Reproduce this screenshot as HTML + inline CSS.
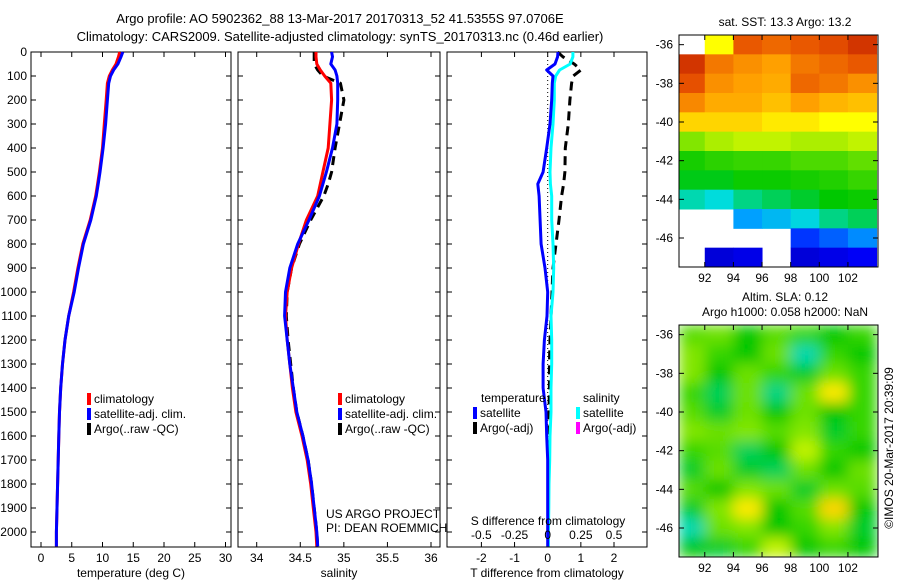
<!DOCTYPE html>
<html><head><meta charset="utf-8"><style>
body{margin:0;background:#fff}
svg{display:block;font-family:"Liberation Sans",sans-serif;font-size:12px}
</style></head><body>
<svg id="c" width="900" height="580" viewBox="0 0 900 580">
<text x="340" y="23" text-anchor="middle" font-size="13">Argo profile: AO 5902362_88 13-Mar-2017 20170313_52 41.5355S 97.0706E</text>
<text x="340" y="41" text-anchor="middle" font-size="13">Climatology: CARS2009. Satellite-adjusted climatology: synTS_20170313.nc (0.46d earlier)</text>
<g id="g"></g>
</svg>
<script>
const depths=[0,20,50,75,100,130,200,300,400,500,550,600,700,800,900,1000,1100,1200,1300,1400,1500,1600,1700,1800,1900,2000,2060];
const tClim=[12.8,12.6,12.2,11.6,11.1,10.8,10.6,10.3,10.0,9.5,9.2,8.9,8.0,6.8,6.0,5.3,4.5,3.9,3.5,3.2,3.0,2.9,2.8,2.7,2.6,2.5,2.5];
const tSat=[13.3,13.0,12.5,11.8,11.3,11.0,10.8,10.5,10.1,9.6,9.3,9.0,8.1,6.9,6.1,5.4,4.5,3.9,3.5,3.2,3.0,2.9,2.8,2.7,2.6,2.5,2.5];
const sClim=[34.68,34.68,34.69,34.73,34.78,34.85,34.86,34.84,34.82,34.76,34.73,34.70,34.57,34.48,34.40,34.35,34.33,34.35,34.38,34.41,34.45,34.52,34.58,34.62,34.65,34.68,34.69];
const sSat=[34.86,34.87,34.85,34.9,34.92,34.93,34.93,34.92,34.87,34.80,34.76,34.72,34.60,34.47,34.38,34.33,34.32,34.35,34.38,34.42,34.46,34.53,34.59,34.63,34.66,34.69,34.70];
const sArgo=[34.66,34.66,34.66,34.70,34.76,34.96,35.0,34.95,34.9,34.86,34.82,34.77,34.62,34.49,34.40,34.35,34.34,34.36,34.39,34.42,34.46,34.53,34.59,34.63,34.66,34.69,34.70];
const dTsat=[0.31,0.3,0.22,-0.03,0.16,0.14,0.12,0.07,-0.03,-0.14,-0.3,-0.26,-0.23,-0.2,-0.08,0,-0.02,-0.1,-0.14,-0.14,-0.05,-0.03,0,0,0,0,0];
const dTargo=[0.3,0.46,0.8,1.0,0.77,0.72,0.67,0.62,0.53,0.52,0.48,0.42,0.34,0.25,0.16,0.13,0.1,0.07,0.05,0.05,0.04,0.04,0.03,0.02,0.01,0.01,0.01];
const dSsat=[0.19,0.19,0.17,0.09,0.06,0.05,0.05,0.04,0.025,0.017,0.02,0.03,0.03,0.04,0.045,0.04,0.025,0.03,0.03,0.025,0.025,0.017,0.015,0.01,0.008,0.005,0.005];
const depthTicks=[0,100,200,300,400,500,600,700,800,900,1000,1100,1200,1300,1400,1500,1600,1700,1800,1900,2000];
const tTicks=[0,5,10,15,20,25,30];
const sTicks=[34,34.5,35,35.5,36];
const dTTicks=[-2,-1,0,1,2];
const dSTickLabels=["-0.5","-0.25","0","0.25","0.5"];
const lats=[-36,-37,-38,-39,-40,-41,-42,-43,-44,-45,-46,-47];
const lons=[91,93,95,97,99,101,103];
const N=null;
const sst=[
[N,0.66,0.84,0.82,0.84,0.86,0.9],
[0.9,0.8,0.77,0.75,0.8,0.82,0.84],
[0.85,0.77,0.75,0.74,0.82,0.8,0.77],
[0.78,0.74,0.74,0.72,0.75,0.73,0.72],
[0.7,0.7,0.7,0.68,0.68,0.66,0.66],
[0.6,0.62,0.63,0.63,0.62,0.62,0.63],
[0.5,0.52,0.53,0.53,0.55,0.55,0.57],
[0.47,0.47,0.49,0.49,0.5,0.51,0.53],
[0.4,0.38,0.42,0.44,0.46,0.48,0.49],
[N,N,0.3,0.33,0.37,0.42,0.44],
[N,N,N,N,0.2,0.24,0.28],
[N,0.1,0.12,N,0.1,0.12,0.14]];
const sla=[
[0.56,0.58,0.48,0.56,0.53,0.48,0.53],
[0.6,0.53,0.48,0.58,0.4,0.53,0.48],
[0.6,0.48,0.58,0.53,0.46,0.58,0.53],
[0.53,0.44,0.58,0.42,0.58,0.68,0.53],
[0.56,0.46,0.58,0.48,0.58,0.48,0.53],
[0.6,0.58,0.6,0.56,0.6,0.46,0.53],
[0.53,0.56,0.44,0.48,0.63,0.53,0.48],
[0.46,0.58,0.46,0.44,0.58,0.48,0.58],
[0.56,0.48,0.6,0.58,0.46,0.58,0.56],
[0.46,0.6,0.68,0.48,0.56,0.7,0.48],
[0.4,0.58,0.6,0.48,0.53,0.6,0.46],
[0.48,0.46,0.53,0.63,0.48,0.53,0.48]];
const latTicks=[-36,-38,-40,-42,-44,-46];
const lonTicks=[92,94,96,98,100,102];

const NS='http://www.w3.org/2000/svg';
const G=document.getElementById('g');
function mk(tag,attrs,parent,txt){const e=document.createElementNS(NS,tag);for(const k in attrs)e.setAttribute(k,attrs[k]);if(txt!==undefined)e.textContent=txt;(parent||G).appendChild(e);return e;}
const Y0=52,YB=547;
const yD=d=>Y0+d*0.24;
function lin(d0,d1,r0,r1){return v=>r0+(v-d0)*(r1-r0)/(d1-d0);}
const panels=[
 {x0:31,x1:231,f:lin(0,30,41,225.5),ticks:tTicks,lab:"temperature (deg C)",name:"temperature"},
 {x0:238,x1:440,f:lin(34,36,256.7,431),ticks:sTicks,lab:"salinity",name:"salinity"},
 {x0:447,x1:647,f:lin(0,2,547.7,614),ticks:dTTicks,lab:"T difference from climatology",name:"difference"}];
panels.forEach((p,pi)=>{
 const g=mk('g',{});
 
 
 mk('rect',{x:p.x0,y:Y0,width:p.x1-p.x0,height:YB-Y0,fill:'#fff',stroke:'#000','stroke-width':1},g);
 p.ticks.forEach(t=>{const x=p.f(t);
  mk('line',{x1:x,x2:x,y1:Y0,y2:Y0+5,stroke:'#000'},g);
  mk('line',{x1:x,x2:x,y1:YB,y2:YB-5,stroke:'#000'},g);
  const tl=mk('text',{x:x,y:562,'text-anchor':'middle'},g,String(t));
  
  });
 depthTicks.forEach(d=>{mk('line',{x1:p.x0,x2:p.x0+5,y1:yD(d),y2:yD(d),stroke:'#000'},g);
  mk('line',{x1:p.x1,x2:p.x1-5,y1:yD(d),y2:yD(d),stroke:'#000'},g);});
 const xl=mk('text',{x:(p.x0+p.x1)/2,y:577,'text-anchor':'middle'},g,p.lab);
 
 
 p.g=g;
});
depthTicks.forEach(d=>{const t=mk('text',{x:27,y:yD(d)+4,'text-anchor':'end'},G,String(d));
 
 });
function line(g,xf,vals,color,name,dash){
 const pts=vals.map((v,i)=>xf(v).toFixed(1)+','+yD(depths[i]).toFixed(1)).join(' ');
 const a={points:pts,fill:'none',stroke:color,'stroke-width':3,'stroke-linejoin':'round'};
 if(dash)a['stroke-dasharray']=dash;
 const e=mk('polyline',a,g);
 
 
}
const P=panels;
line(P[0].g,P[0].f,tClim,'#f00','temp-climatology-line');
line(P[0].g,P[0].f,tSat,'#00f','temp-satellite-line');
line(P[1].g,P[1].f,sArgo,'#000','salinity-argo-line','9,6');
line(P[1].g,P[1].f,sClim,'#f00','salinity-climatology-line');
line(P[1].g,P[1].f,sSat,'#00f','salinity-satellite-line');
const sx=v=>P[2].f(v*4);
mk('line',{x1:P[2].f(0),x2:P[2].f(0),y1:Y0,y2:YB,stroke:'#000','stroke-dasharray':'1,3'},P[2].g);
line(P[2].g,P[2].f,dTargo,'#000','tdiff-argo-line','9,6');
line(P[2].g,sx,dSsat,'#0ff','sdiff-satellite-line');
line(P[2].g,P[2].f,dTsat,'#00f','tdiff-satellite-line');
function leg(g,x,y,color,txt,name){const l=mk('g',{},g);
 
 
 mk('rect',{x:x,y:y-10,width:4,height:12,fill:color},l);
 mk('text',{x:x+7,y:y},l,txt);}
[[P[0].g,87],[P[1].g,338]].forEach(([g,x])=>{
 leg(g,x,403,'#f00','climatology','legend-climatology');
 leg(g,x,418,'#00f','satellite-adj. clim.','legend-satellite');
 leg(g,x,433,'#000','Argo(..raw -QC)','legend-argo');});
mk('text',{x:481,y:402},P[2].g,'temperature');
mk('text',{x:583,y:402},P[2].g,'salinity');
leg(P[2].g,473,417,'#00f','satellite','legend-t-satellite');
leg(P[2].g,473,432,'#000','Argo(-adj)','legend-t-argo');
leg(P[2].g,576,417,'#0ff','satellite','legend-s-satellite');
leg(P[2].g,576,432,'#f0f','Argo(-adj)','legend-s-argo');
mk('text',{x:548,y:525,'text-anchor':'middle'},P[2].g,'S difference from climatology');
dSTickLabels.forEach((t,i)=>{const x=P[2].f(dTTicks[i]);mk('text',{x:x,y:539,'text-anchor':'middle'},P[2].g,t);});
mk('text',{x:326,y:518},P[1].g,'US ARGO PROJECT');
mk('text',{x:326,y:532},P[1].g,'PI: DEAN ROEMMICH');
P[2].g.parentNode.appendChild(P[2].g);

const cmapStops=[[0,0,0,140],[0.15,0,0,255],[0.3,0,160,255],[0.38,0,220,220],[0.48,0,200,0],[0.6,130,230,0],[0.66,255,255,0],[0.75,255,160,0],[0.85,230,80,0],[1,170,0,0]];
function jet(v){v=Math.max(0,Math.min(1,v));
 for(let k=1;k<cmapStops.length;k++){const a=cmapStops[k-1],b=cmapStops[k];
  if(v<=b[0]){const t=(v-a[0])/(b[0]-a[0]);const c=i=>Math.round(a[i]+(b[i]-a[i])*t);return `rgb(${c(1)},${c(2)},${c(3)})`;}}
 return 'rgb(170,0,0)';}
function map(y0,y1,grid,title,name,blur){
 const x0=679,x1=878;
 const lx=lin(90.2,104.1,x0,x1),ly=lin(-35.5,-47.5,y0,y1);
 const g=mk('g',{});
 
 
 const cg=mk('g',blur?{filter:'url(#bl)'}:{},g);
 lats.forEach((la,i)=>lons.forEach((lo,j)=>{const v=grid[i][j];if(v===null)return;
  const xa=Math.max(x0,lx(lo-1)),xb=Math.min(x1,lx(lo+1)),ya=Math.max(y0,ly(la+0.5+(i==0?0.5:0))),yb=Math.min(y1,ly(la-0.5));
  const r=mk('rect',{x:xa,y:ya,width:xb-xa+0.5,height:yb-ya+0.5,fill:jet(v)},cg);
  
  }));
 mk('rect',{x:x0,y:y0,width:x1-x0,height:y1-y0,fill:'none',stroke:'#000'},g);
 latTicks.forEach(t=>{const y=ly(t);mk('line',{x1:x0,x2:x0+5,y1:y,y2:y,stroke:'#000'},g);mk('line',{x1:x1,x2:x1-5,y1:y,y2:y,stroke:'#000'},g);
  mk('text',{x:673,y:y+4,'text-anchor':'end'},g,String(t));});
 lonTicks.forEach(t=>{const x=lx(t);mk('line',{x1:x,x2:x,y1:y0,y2:y0+5,stroke:'#000'},g);mk('line',{x1:x,x2:x,y1:y1,y2:y1-5,stroke:'#000'},g);
  mk('text',{x:x,y:y1+15,'text-anchor':'middle'},g,String(t));});
 title.forEach((t,k)=>mk('text',{x:785,y:y0-9-(title.length-1-k)*15,'text-anchor':'middle'},g,t));
}
const defs=mk('defs',{});mk('filter',{id:'bl',x:0,y:0,width:1,height:1},defs);
mk('feGaussianBlur',{stdDeviation:7,edgeMode:'duplicate'},defs.firstChild);
map(35,267,sst,['sat. SST: 13.3 Argo: 13.2'],'sst-map',false);
map(325,557,sla,['Altim. SLA: 0.12','Argo h1000: 0.058 h2000: NaN'],'sla-map',true);
const ct=mk('text',{x:0,y:0,'text-anchor':'middle',transform:'translate(893,448) rotate(-90)'},G,'©IMOS 20-Mar-2017 20:39:09');


</script>
</body></html>
